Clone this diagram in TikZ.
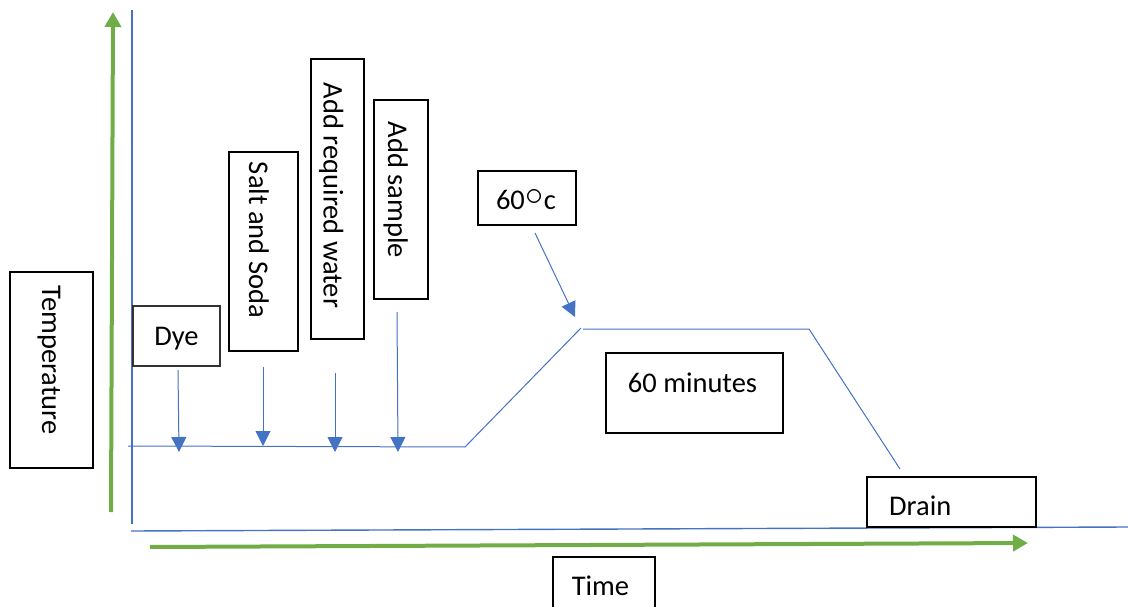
\documentclass[tikz,border=0pt]{standalone}
\usepackage{fontspec}
\setmainfont{Carlito}
\usetikzlibrary{arrows.meta}
\definecolor{lineblue}{HTML}{4472C4}
\definecolor{arrgreen}{HTML}{70AD47}
\begin{document}
\begin{tikzpicture}[x=1pt,y=-1pt,
  box/.style={draw=black, line width=1.3pt, rectangle, inner sep=0pt},
  txt/.style={inner sep=0pt, anchor=base, font=\fontsize{28.5}{34}\selectfont},
  vtxt/.style={txt, rotate=-90},
  blu/.style={draw=lineblue, line width=1pt},
  barrow/.style={draw=lineblue, line width=1pt, -{Triangle[length=15pt,width=15pt]}},
  garrow/.style={draw=arrgreen, line width=4pt, -{Triangle[length=15pt,width=16pt]}}]
\useasboundingbox (0,0) rectangle (1128,607);

% axes
\coordinate (yaxB) at (132,524);
\coordinate (yaxT) at (132,10);
\coordinate (xaxL) at (131,531);
\coordinate (xaxR) at (1128,527);
\draw[draw=lineblue, line width=1.4pt] (yaxB) -- (yaxT);
\draw[draw=lineblue, line width=1.4pt] (xaxL) -- (xaxR);

% green arrows
\coordinate (gvB) at (111,512);
\coordinate (gvT) at (113,12);
\coordinate (ghL) at (150,547);
\coordinate (ghR) at (1028,543);
\draw[garrow] (gvB) -- (gvT);
\draw[garrow] (ghL) -- (ghR);

% boxes
\node[box, minimum width=83pt, minimum height=196pt] (tempbox) at (51.5,370) {};
\node[box, draw=black!80, minimum width=87pt, minimum height=60pt] (dyebox) at (176.5,336) {};
\node[box, minimum width=69pt, minimum height=199pt] (saltbox) at (263.5,251.5) {};
\node[box, minimum width=53pt, minimum height=280pt] (waterbox) at (337.5,199) {};
\node[box, minimum width=54pt, minimum height=199pt] (samplebox) at (401,199.5) {};
\node[box, minimum width=98pt, minimum height=54pt] (degbox) at (527,198) {};
\node[box, minimum width=177pt, minimum height=80pt] (minbox) at (694.5,393) {};
\node[box, minimum width=169pt, minimum height=50pt] (drainbox) at (951.5,502) {};
\node[box, minimum width=102pt, minimum height=51pt] (timebox) at (604,582.5) {};

% labels
\node[vtxt] (templbl) at (42,360) {Temperature};
\node[txt] (dyelbl) at (176.5,345) {Dye};
\node[vtxt] (saltlbl) at (249,240) {Salt and Soda};
\node[vtxt] (waterlbl) at (323.5,195.5) {Add required water};
\node[vtxt] (samplelbl) at (388,190) {Add sample};
\node[txt] (deglbl) at (526,210) {60\kern0.5pt\raisebox{5pt}{\scalebox{1.45}{$\circ$}}\kern0.5pt c};
\node[txt] (minlbl) at (692.5,392) {60 minutes};
\node[txt, anchor=base west] (drainlbl) at (889,515) {Drain};
\node[txt] (timelbl) at (600.5,595) {Time};

% temperature profile
\coordinate (p0) at (128,446);
\coordinate (p1) at (465,447);
\coordinate (p2) at (581,328);
\coordinate (p3) at (583,329);
\coordinate (p4) at (809,329);
\coordinate (p5) at (900,469);
\draw[blu] (p0) -- (p1) -- (p2);
\draw[blu] (p3) -- (p4) -- (p5);

% blue arrows
\coordinate (dyeS) at (178,370);   \coordinate (dyeE) at (179,452);
\coordinate (saltS) at (263,367);  \coordinate (saltE) at (263,446);
\coordinate (waterS) at (335,373); \coordinate (waterE) at (335,452);
\coordinate (sampS) at (397,312);  \coordinate (sampE) at (398,452);
\coordinate (degS) at (535,233);   \coordinate (degE) at (575,317);
\draw[barrow] (dyeS) -- (dyeE);
\draw[barrow] (saltS) -- (saltE);
\draw[barrow] (waterS) -- (waterE);
\draw[barrow] (sampS) -- (sampE);
\draw[barrow] (degS) -- (degE);
\end{tikzpicture}
\end{document}
